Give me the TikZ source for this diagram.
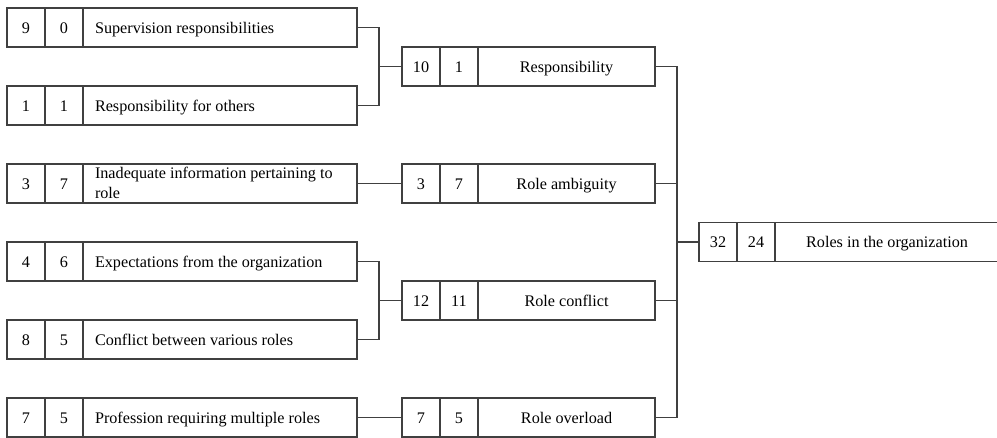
\documentclass[tikz,border=0pt]{standalone}
\usepackage{fontspec}
\setmainfont{Liberation Serif}
\usepackage{tikz}
\usetikzlibrary{positioning}
\definecolor{linegray}{HTML}{404040}

\begin{document}
\begin{tikzpicture}[x=0.025cm, y=-0.025cm,
    cell/.style={draw=linegray, line width=0.9pt, inner sep=0pt, outer sep=0pt,
      minimum height=0.975cm, text height=8.5pt, text depth=0pt,
      font=\fontsize{11.5}{14}\selectfont},
    num/.style={cell, minimum width=0.95cm},
    leftlbl/.style={cell, minimum width=6.85cm, text width=6.25cm, align=flush left},
    midlbl/.style={cell, minimum width=4.425cm},
    rootlbl/.style={cell, minimum width=5.6cm},
    wire/.style={draw=linegray, line width=0.9pt}]
  \useasboundingbox (0, 0) rectangle (997, 438);

  % left column
  \node[num, anchor=west] (s1) at (7, 27.5) {9};
  \node[num, right=0pt of s1] (s1b) {0};
  \node[leftlbl, right=0pt of s1b] (s1c) {Supervision responsibilities};
  \node[num, anchor=west] (s2) at (7, 105.5) {1};
  \node[num, right=0pt of s2] (s2b) {1};
  \node[leftlbl, right=0pt of s2b] (s2c) {Responsibility for others};
  \node[num, anchor=west] (s3) at (7, 183.5) {3};
  \node[num, right=0pt of s3] (s3b) {7};
  \node[leftlbl, text height=7.6pt, text depth=14pt, right=0pt of s3b] (s3c)
    {Inadequate information pertaining to\\role};
  \node[num, anchor=west] (s4) at (7, 261.5) {4};
  \node[num, right=0pt of s4] (s4b) {6};
  \node[leftlbl, right=0pt of s4b] (s4c) {Expectations from the organization};
  \node[num, anchor=west] (s5) at (7, 339.5) {8};
  \node[num, right=0pt of s5] (s5b) {5};
  \node[leftlbl, right=0pt of s5b] (s5c) {Conflict between various roles};
  \node[num, anchor=west] (s6) at (7, 417.5) {7};
  \node[num, right=0pt of s6] (s6b) {5};
  \node[leftlbl, right=0pt of s6b] (s6c) {Profession requiring multiple roles};

  % middle column
  \node[num, anchor=west] (m1) at (402, 66.5) {10};
  \node[num, right=0pt of m1] (m1b) {1};
  \node[midlbl, right=0pt of m1b] (m1c) {Responsibility};
  \node[num, anchor=west] (m2) at (402, 183.5) {3};
  \node[num, right=0pt of m2] (m2b) {7};
  \node[midlbl, right=0pt of m2b] (m2c) {Role ambiguity};
  \node[num, anchor=west] (m3) at (402, 300.5) {12};
  \node[num, right=0pt of m3] (m3b) {11};
  \node[midlbl, right=0pt of m3b] (m3c) {Role conflict};
  \node[num, anchor=west] (m4) at (402, 417.5) {7};
  \node[num, right=0pt of m4] (m4b) {5};
  \node[midlbl, right=0pt of m4b] (m4c) {Role overload};

  % root
  \node[num, anchor=west] (r) at (699, 242) {32};
  \node[num, right=0pt of r] (rb) {24};
  \node[rootlbl, right=0pt of rb] (rc) {Roles in the organization};

  \coordinate (ja) at (379, 66.5);
  \coordinate (jb) at (379, 300.5);
  \coordinate (jr) at (677, 242);
  \draw[wire] (s1c.east) -| (ja) |- (s2c.east);
  \draw[wire] (ja) -- (m1.west);
  \draw[wire] (s3c.east) -- (m2.west);
  \draw[wire] (s4c.east) -| (jb) |- (s5c.east);
  \draw[wire] (jb) -- (m3.west);
  \draw[wire] (s6c.east) -- (m4.west);
  \draw[wire] (m1c.east) -| (jr) |- (m4c.east);
  \draw[wire] (m2c.east) -| (jr);
  \draw[wire] (m3c.east) -| (jr);
  \draw[wire] (jr) -- (r.west);
\end{tikzpicture}
\end{document}
